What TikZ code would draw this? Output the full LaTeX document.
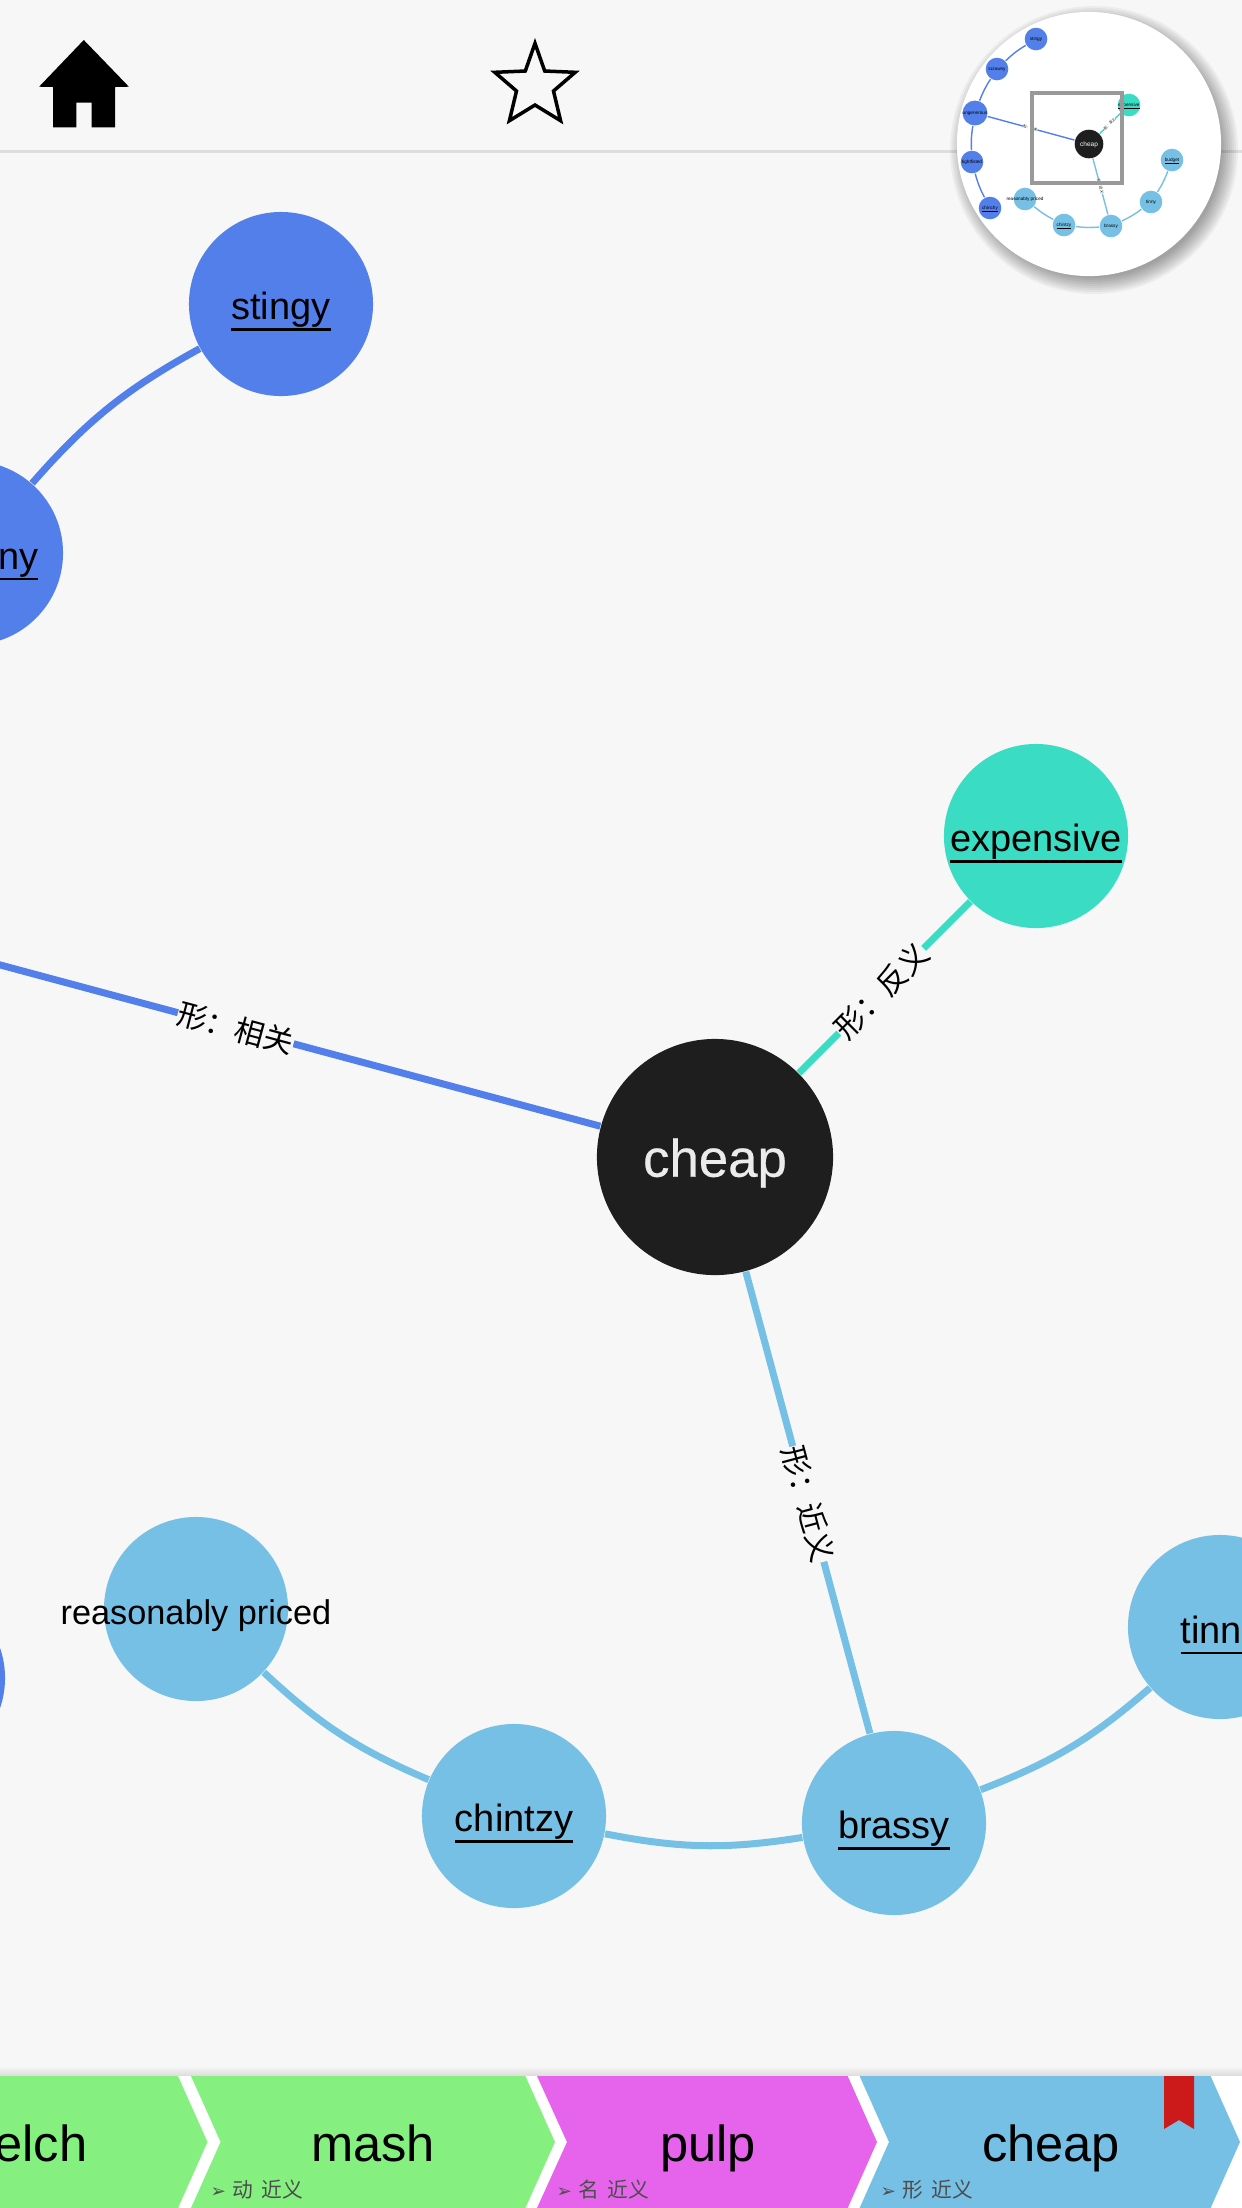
\documentclass[tikz,border=0pt]{standalone}
\usepackage{fontspec}
\setmainfont{Liberation Sans}
\newfontfamily\cjkfont{Noto Sans CJK SC}
\newfontfamily\symfont{DejaVu Sans}
\newfontfamily\medfont[FakeBold=0.5]{Liberation Sans}
\usepackage{xcolor}
\usepackage{tikz}
\usetikzlibrary{positioning,shapes.geometric,calc}
\definecolor{pagebg}{RGB}{247,247,247}
\definecolor{rulegray}{RGB}{222,222,222}
\definecolor{colblue}{RGB}{83,127,234}
\definecolor{colsky}{RGB}{118,192,229}
\definecolor{colteal}{RGB}{58,220,195}
\definecolor{colblack}{RGB}{30,30,30}
\definecolor{colgreen}{RGB}{133,240,128}
\definecolor{colpink}{RGB}{230,100,235}
\definecolor{colred}{RGB}{204,26,26}
\definecolor{framegray}{RGB}{153,153,153}
\newcommand{\wordline}[1]{\setbox0=\hbox{#1}\rlap{\rule[-0.29em]{\wd0}{0.065em}}\box0}
\newcommand{\tabsub}[1]{{\symfont\fontsize{5.2}{6}\selectfont ➢}\hspace{1.9pt}{\cjkfont\spaceskip=2.4pt #1}}

\begin{document}
\begin{tikzpicture}[
  x=0.01cm, y=-0.01cm,
  word/.style={circle, inner sep=0pt, minimum size=1.84cm, text height=8.8pt, text depth=0pt,
               font=\fontsize{10.8}{13}\selectfont},
  centre/.style={circle, inner sep=0pt, minimum size=2.36cm, fill=colblack, text=black!8,
                 text height=11.2pt, text depth=0pt, font=\medfont\fontsize{15}{18}\selectfont},
  plain/.style={inner sep=0pt, font=\fontsize{10.8}{13}\selectfont},
  link/.style={line width=0.07cm},
  lbl/.style={fill=pagebg, text=black, inner sep=0pt, sloped, font=\cjkfont\fontsize{8.5}{10}\selectfont},
  tabword/.style={inner sep=0pt, font=\fontsize{14.4}{17}\selectfont},
  tabnote/.style={inner sep=0pt, text=black!70, font=\fontsize{5.9}{7}\selectfont},
  mini/.style={circle, inner sep=0pt, minimum size=0.226cm, text height=0.95pt, text depth=0pt,
               font=\fontsize{1.33}{1.6}\selectfont},
  minicentre/.style={circle, inner sep=0pt, minimum size=0.286cm, fill=colblack, text=white,
               text height=1.3pt, text depth=0pt, font=\fontsize{1.85}{2.2}\selectfont},
  minilink/.style={line width=0.014cm},
  minilbl/.style={fill=white, text=black, inner sep=0pt, sloped, font=\cjkfont\fontsize{1.05}{1.3}\selectfont},
]
\useasboundingbox (0,0) rectangle (1242,2208);
\clip (0,0) rectangle (1242,2208);
\fill[pagebg] (0,0) rectangle (1242,2208);
\fill[rulegray] (0,149.5) rectangle (1242,152.5);

% graph
\node[word, fill=colblue] (n_stingy) at (281,304) {\wordline{stingy}};
\node[word, fill=colblue] (n_ny) at (-29,553) {};
\node[word, fill=colblue] (n_left) at (-87,1678) {};
\coordinate (n_rel) at (-208,909);
\node[word, fill=colteal] (n_exp) at (1036,836) {\wordline{expensive}};
\node[word, fill=colsky, font=\fontsize{9.75}{12}\selectfont] (n_reas) at (196,1609) {\makebox[0pt]{reasonably priced}};
\node[word, fill=colsky] (n_chin) at (514,1816) {\wordline{chintzy}};
\node[word, fill=colsky] (n_bras) at (894,1823) {\wordline{brassy}};
\node[word, fill=colsky] (n_tiny) at (1220,1627) {};
\node[centre] (n_cheap) at (715,1157) {cheap};
\node[plain, anchor=base east] (t_ny) at (39,569) {\wordline{ny}};
\node[plain, anchor=base west] (t_tinn) at (1180,1643) {\wordline{tinn}};

\draw[link, colblue] (n_stingy) to[bend right=10] (n_ny);
\draw[link, colblue] (n_cheap) -- node[lbl, pos=0.451] {形：相关} (n_rel);
\draw[link, colteal] (n_cheap) -- node[lbl, pos=0.48] {形：反义} (n_exp);
\draw[link, colsky] (n_cheap) -- node[lbl, pos=0.503] {形：近义} (n_bras);
\draw[link, colsky] (n_reas) to[bend right=10] (n_chin);
\draw[link, colsky] (n_chin) to[bend right=10] (n_bras);
\draw[link, colsky] (n_bras) to[bend right=10] (n_tiny);

% tool bar
\fill (83.8,40) -- (128.9,86.7) -- (115,87) -- (115,127.3) -- (91.7,127.3) -- (91.7,102.7) -- (76.3,102.7)
  -- (76.3,127.3) -- (53,127.3) -- (53,87) -- (39.1,86.7) -- cycle;
\draw[line width=0.035cm] (535,43.3) -- (544.7,71) -- (575.2,72.3) -- (553.5,91) -- (560.6,120.7) -- (535,105)
  -- (509.4,120.7) -- (516.5,91) -- (494.8,72.3) -- (525.3,71) -- cycle;

% overview
\foreach \r in {128,130,...,144}
  \fill[black, opacity=0.045] (1094,150) circle (\r);
\node[circle, fill=white, minimum size=2.64cm, inner sep=0pt] (m_disc) at (1089,144) {};
\node[mini, fill=colblue] (m_stingy) at (1036,39) {stingy};
\node[mini, fill=colblue] (m_ny) at (997,69) {scrawny};
\node[mini, fill=colblue] (m_rel) at (975,113) {ungenerous};
\node[mini, fill=colblue] (m_close) at (972,162) {tightfisted};
\node[mini, fill=colblue] (m_left) at (990,208) {\wordline{chinchy}};
\node[mini, fill=colsky] (m_reas) at (1025,199) {\makebox[0pt]{reasonably priced}};
\node[mini, fill=colsky] (m_chin) at (1064,225) {\wordline{chintzy}};
\node[mini, fill=colsky] (m_bras) at (1111,226) {brassy};
\node[mini, fill=colsky] (m_tiny) at (1151,202) {tinny};
\node[mini, fill=colsky] (m_budg) at (1172,160) {\wordline{budget}};
\node[mini, fill=colteal] (m_exp) at (1129,105) {\wordline{expensive}};
\node[minicentre] (m_cheap) at (1089,144) {cheap};
\draw[minilink, colblue] (m_stingy) to[bend right=6] (m_ny);
\draw[minilink, colblue] (m_ny) to[bend right=6] (m_rel);
\draw[minilink, colblue] (m_rel) to[bend right=6] (m_close);
\draw[minilink, colblue] (m_close) to[bend right=6] (m_left);
\draw[minilink, colblue] (m_cheap) -- node[minilbl, pos=0.51] {形：相关} (m_rel);
\draw[minilink, colteal] (m_cheap) -- node[minilbl, pos=0.48] {形：反义} (m_exp);
\draw[minilink, colsky] (m_cheap) -- node[minilbl, pos=0.5] {形：近义} (m_bras);
\draw[minilink, colsky] (m_reas) to[bend right=6] (m_chin);
\draw[minilink, colsky] (m_chin) to[bend right=6] (m_bras);
\draw[minilink, colsky] (m_bras) to[bend right=6] (m_tiny);
\draw[minilink, colsky] (m_tiny) to[bend right=6] (m_budg);
\node[draw=framegray, line width=0.045cm, minimum size=0.9cm, inner sep=0pt] (m_view) at (1077,138) {};

% history tabs
\shade[top color=pagebg, bottom color=black!14] (0,2066) rectangle (1242,2076);
\fill[white] (0,2076) rectangle (1242,2208);
\fill[colgreen] (0,2076) -- (178,2076) -- (207.5,2142) -- (178,2208) -- (0,2208) -- cycle;
\fill[colgreen] (191,2076) -- (525.4,2076) -- (555,2142) -- (525.4,2208) -- (191,2208) -- (220.6,2142) -- cycle;
\fill[colpink] (537,2076) -- (847.7,2076) -- (877,2142) -- (847.7,2208) -- (537,2208) -- (567,2142) -- cycle;
\fill[colsky] (859.6,2076) -- (1210.6,2076) -- (1240,2142) -- (1210.6,2208) -- (859.6,2208) -- (889,2142) -- cycle;
\fill[colred] (1164,2076) -- (1194,2076) -- (1194,2129) -- (1179,2120) -- (1164,2129) -- cycle;
\node[tabword, anchor=base east] (t_elch) at (88,2161) {elch};
\node[tabword, anchor=base] (t_mash) at (373,2161) {mash};
\node[tabword, anchor=base] (t_pulp) at (708,2161) {pulp};
\node[tabword, anchor=base] (t_cheap) at (1051,2161) {cheap};
\node[tabnote, anchor=base west] (s_mash) at (210,2197) {\tabsub{动 近义}};
\node[tabnote, anchor=base west] (s_pulp) at (556,2197) {\tabsub{名 近义}};
\node[tabnote, anchor=base west] (s_cheap) at (880,2197) {\tabsub{形 近义}};
\end{tikzpicture}
\end{document}
